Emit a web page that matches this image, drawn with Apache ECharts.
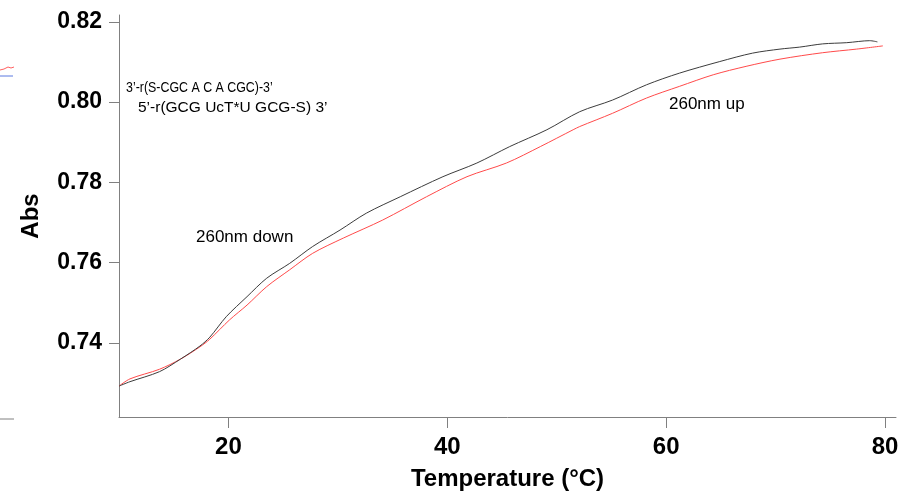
<!DOCTYPE html>
<html>
<head>
<meta charset="utf-8">
<script src="https://cdn.jsdelivr.net/npm/echarts@6/dist/echarts.min.js"></script>
<style>
html,body{margin:0;padding:0;background:#fff;}
#chart{width:911px;height:502px;}
</style>
</head>
<body>
<div id="chart"></div>
<script>
// Temperature (°C) and absorbance, black trace ("260nm down")
var tempDown = [10.0, 11.0, 13.7, 15.6, 17.4, 18.3, 19.8, 21.7, 23.5, 25.6, 27.7, 30.2, 32.6, 35.7, 39.6, 42.7, 45.7, 49.1, 52.1, 55.1, 58.2, 61.2, 64.9, 67.9, 70.4, 72.2, 74.3, 76.5, 78.6, 79.3];
var absDown  = [0.7292, 0.7303, 0.7328, 0.7359, 0.7392, 0.7414, 0.7465, 0.7515, 0.7561, 0.7598, 0.7640, 0.7681, 0.7723, 0.7764, 0.7814, 0.7848, 0.7889, 0.7931, 0.7976, 0.8005, 0.8043, 0.8072, 0.8101, 0.8122, 0.8132, 0.8137, 0.8145, 0.8148, 0.8153, 0.8150];
// red trace ("260nm up")
var tempUp = [10.0, 11.0, 13.7, 15.6, 17.4, 18.3, 20.1, 21.7, 23.5, 25.6, 27.7, 30.5, 34.1, 38.1, 41.8, 45.4, 48.5, 51.5, 52.1, 55.1, 58.2, 61.2, 64.3, 67.3, 70.4, 74.3, 77.4, 79.8];
var absUp  = [0.7292, 0.7310, 0.7334, 0.7359, 0.7390, 0.7409, 0.7457, 0.7494, 0.7540, 0.7582, 0.7623, 0.7661, 0.7706, 0.7764, 0.7814, 0.7848, 0.7889, 0.7931, 0.7939, 0.7972, 0.8010, 0.8039, 0.8068, 0.8089, 0.8107, 0.8123, 0.8132, 0.8140];
var xTicks = [20, 40, 60, 80];
var yTicks = [0.74, 0.76, 0.78, 0.80, 0.82];
var annotations = ["3\u2019-r(S-CGC A C A CGC)-3\u2019", "5\u2019-r(GCG UcT*U GCG-S) 3\u2019", "260nm down", "260nm up"];

function zip(a, b) { return a.map(function (v, i) { return [v, b[i]]; }); }

var chart = echarts.init(document.getElementById('chart'), null, {renderer: 'canvas'});
var axisCol = '#808080';
var fontFam = '"Liberation Sans", Arial, sans-serif';

chart.setOption({
  animation: false,
  backgroundColor: '#fff',
  grid: {left: 119, right: 15, top: 15, bottom: 85, containLabel: false},
  xAxis: {
    type: 'value', min: 10, max: 81,
    name: 'Temperature (\u00b0C)', nameLocation: 'middle', nameGap: 50,
    nameTextStyle: {fontFamily: fontFam, fontWeight: 'bold', fontSize: 24, color: '#000'},
    axisLine: {show: true, onZero: false, lineStyle: {color: axisCol, width: 1}},
    axisTick: {show: true, length: 11, inside: false, customValues: xTicks, lineStyle: {color: axisCol}},
    axisLabel: {customValues: xTicks, margin: 18, fontFamily: fontFam, fontWeight: 'bold', fontSize: 24, color: '#000'},
    splitLine: {show: false}
  },
  yAxis: {
    type: 'value', min: 0.7215, max: 0.8217,
    name: 'Abs', nameLocation: 'middle', nameGap: 76, nameRotate: 90,
    nameTextStyle: {fontFamily: fontFam, fontWeight: 'bold', fontSize: 24, color: '#000'},
    axisLine: {show: true, onZero: false, lineStyle: {color: axisCol, width: 1}},
    axisTick: {show: true, length: 10, inside: false, customValues: yTicks, lineStyle: {color: axisCol}},
    axisLabel: {customValues: yTicks, margin: 17, fontFamily: fontFam, fontWeight: 'bold', fontSize: 23, color: '#000',
      formatter: function (v) { return v.toFixed(2); }},
    splitLine: {show: false}
  },
  series: [
    {name: '260nm down', type: 'line', data: zip(tempDown, absDown), showSymbol: false, smooth: 0.3,
     lineStyle: {color: '#3c3c3c', width: 1}, itemStyle: {color: '#3c3c3c'}, z: 3},
    {name: '260nm up', type: 'line', data: zip(tempUp, absUp), showSymbol: false, smooth: 0.3,
     lineStyle: {color: '#ff4a4a', width: 1}, itemStyle: {color: '#ff4a4a'}, z: 2}
  ],
  graphic: [
    {type: 'text', x: 126, y: 80, scaleX: 0.8, scaleY: 1, style: {text: annotations[0], font: '15.5px ' + fontFam, fill: '#000'}},
    {type: 'text', left: 138, top: 100, style: {text: annotations[1], font: '15.5px ' + fontFam, fill: '#000'}},
    {type: 'text', left: 196, top: 229, style: {text: annotations[2], font: '17px ' + fontFam, fill: '#000'}},
    {type: 'text', left: 669, top: 96, style: {text: annotations[3], font: '17px ' + fontFam, fill: '#000'}},
    {type: 'polyline', shape: {points: [[0, 70], [4, 69], [8, 67], [11, 68], [14, 67]]}, style: {stroke: '#ff6060', lineWidth: 1, fill: null}},
    {type: 'line', shape: {x1: 0, y1: 76, x2: 13, y2: 76}, style: {stroke: '#5a78e0', lineWidth: 1}},
    {type: 'line', shape: {x1: 0, y1: 419, x2: 14, y2: 419}, style: {stroke: axisCol, lineWidth: 1}}
  ]
});
</script>
</body>
</html>
